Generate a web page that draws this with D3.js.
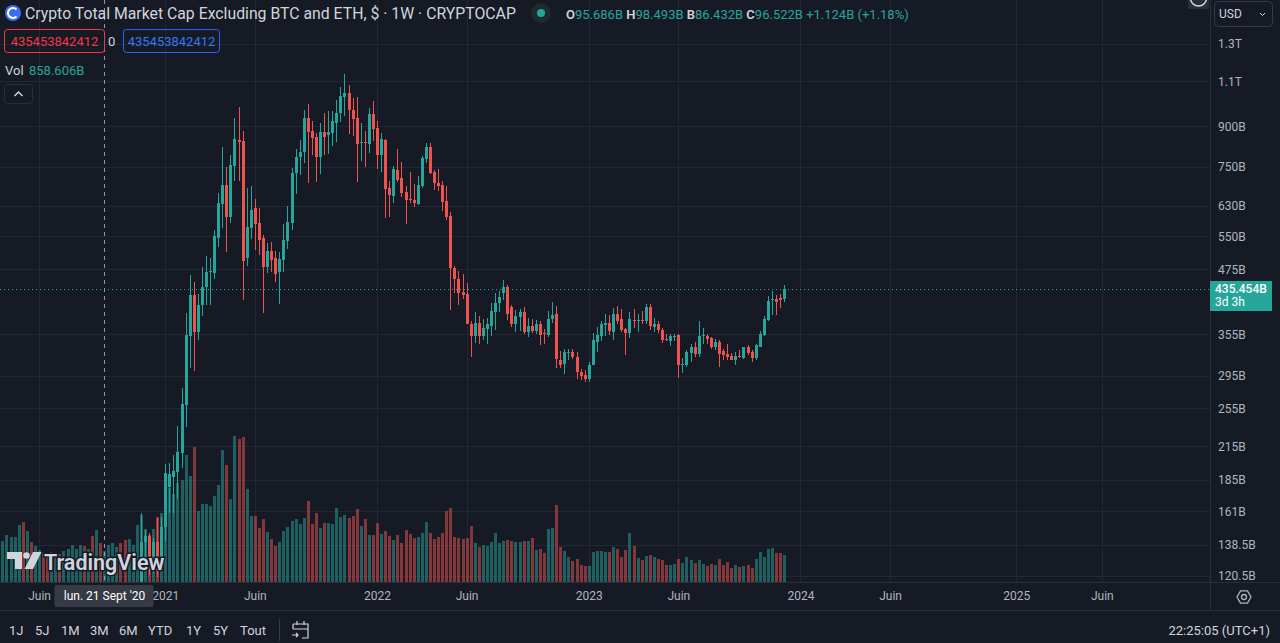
<!DOCTYPE html>
<html>
<head>
<meta charset="utf-8">
<script src="https://cdn.jsdelivr.net/npm/d3@7"></script>
<style>
  html, body { margin: 0; padding: 0; background: #161a25; overflow: hidden; }
  svg { display: block; font-family: Roboto, "DejaVu Sans", sans-serif; }
</style>
</head>
<body>
<svg id="chart" width="1280" height="643"></svg>
<script>
// weekly candles, first bar = week of 30 Mar 2020, values in billions USD
const firstWeek = "2020-03-30";

const opens = [
  44, 46, 50, 51, 54, 60, 57, 60, 58, 63, 66, 64, 63, 64, 66, 65, 72, 79, 88, 94,
  104, 101, 106, 92, 100, 95.686, 96.5, 98, 101, 102, 97, 92, 98, 104, 113, 140, 144, 128, 140, 126,
  150, 179, 188, 192, 209, 259, 352, 424, 359, 405,
  439, 469, 468, 547, 636, 693, 600, 755, 846, 842,
  500, 572, 625, 584, 546, 480, 516, 500, 470, 495,
  539, 585, 729, 783, 803, 933, 881, 856, 783, 877,
  865, 875, 915, 955, 1027, 1044, 967, 934, 835, 839,
  832, 951, 893, 793, 848, 683, 660, 740, 714, 671,
  650, 647, 637, 690, 779, 820, 734, 699, 693, 644,
  603, 478, 455, 429, 425, 372, 352, 374, 352, 364,
  369, 393, 408, 427, 439, 401, 372, 384, 393, 359,
  369, 360, 371, 357, 354, 381, 389, 317, 311, 327,
  328, 321, 300, 296, 291, 310, 343, 353, 370, 374,
  359, 389, 381, 364, 357, 379, 376, 379, 376, 401,
  367, 371, 362, 348, 344, 351, 354, 310, 310, 327,
  335, 325, 352, 353, 349, 335, 343, 330, 325, 322,
  317, 322, 320, 335, 328, 320, 336, 354, 379, 415,
  416, 418, 416
];
const highs = [
  48, 52, 52, 55, 62, 62, 61, 62, 64, 68, 68, 66, 65, 67, 70, 74, 80, 90, 96, 106,
  110, 108, 110, 102, 104, 98.493, 100, 104, 104, 104, 99, 100, 106, 116, 160, 148, 146, 143, 156, 157,
  199, 200, 207, 236, 279, 390, 463, 449, 425, 479,
  504, 500, 566, 668, 820, 751, 792, 934, 981, 881,
  683, 690, 650, 625, 553, 534, 536, 515, 514, 582,
  630, 748, 812, 847, 968, 994, 922, 872, 913, 954,
  964, 965, 1012, 1071, 1136, 1080, 1021, 1024, 913, 881,
  978, 1006, 923, 872, 852, 704, 753, 813, 768, 690,
  734, 694, 720, 788, 834, 834, 740, 744, 704, 690,
  613, 482, 471, 465, 447, 377, 393, 386, 381, 382,
  409, 427, 431, 453, 443, 405, 396, 398, 401, 382,
  381, 379, 376, 364, 394, 411, 403, 329, 333, 333,
  333, 328, 304, 303, 313, 357, 367, 376, 389, 387,
  400, 403, 398, 366, 393, 398, 389, 394, 406, 406,
  382, 377, 365, 355, 355, 355, 355, 320, 331, 340,
  343, 377, 365, 355, 351, 348, 346, 333, 340, 327,
  328, 331, 336, 338, 331, 340, 360, 386, 422, 431,
  424, 425, 443
];
const lows = [
  42, 45, 47, 49, 53, 54, 55, 57, 57, 62, 63, 62, 61, 62, 64, 64, 71, 78, 85, 92,
  99, 99, 86, 86, 93, 86.432, 94, 96, 98, 95, 88, 90, 96, 102, 110, 126, 121, 122, 120, 124,
  141, 160, 160, 170, 195, 235, 305, 301, 346, 385,
  405, 404, 455, 524, 570, 514, 585, 706, 706, 413,
  482, 544, 518, 505, 390, 468, 469, 448, 407, 470,
  521, 565, 666, 725, 765, 698, 792, 700, 727, 792,
  794, 825, 837, 917, 944, 871, 860, 703, 772, 749,
  798, 841, 745, 735, 598, 601, 639, 703, 656, 582,
  639, 627, 633, 684, 762, 726, 677, 675, 616, 593,
  395, 428, 404, 416, 371, 321, 342, 340, 346, 340,
  352, 362, 393, 414, 379, 367, 359, 360, 355, 351,
  357, 355, 338, 340, 351, 374, 306, 306, 297, 316,
  318, 291, 290, 287, 287, 309, 328, 344, 353, 354,
  346, 371, 359, 323, 349, 365, 359, 371, 372, 362,
  359, 357, 341, 344, 337, 344, 292, 299, 307, 313,
  321, 321, 340, 340, 333, 331, 307, 316, 317, 316,
  309, 320, 318, 324, 314, 317, 336, 353, 377, 387,
  387, 400, 410
];
const closes = [
  46, 50, 51, 54, 60, 57, 60, 58, 63, 66, 64, 63, 64, 66, 65, 72, 79, 88, 94, 104,
  101, 106, 92, 100, 95.398, 96.522, 98, 101, 102, 97, 92, 98, 104, 113, 140, 144, 128, 140, 126, 150,
  191, 190, 193, 210, 260, 354, 424, 358, 405, 439,
  469, 471, 551, 638, 693, 601, 757, 852, 840, 493,
  574, 619, 582, 542, 480, 516, 496, 464, 497, 541,
  587, 730, 785, 801, 933, 878, 853, 786, 876, 858,
  877, 922, 955, 1030, 1044, 969, 931, 832, 839, 836,
  951, 890, 793, 851, 681, 663, 743, 708, 669, 647,
  648, 639, 693, 781, 820, 729, 697, 690, 642, 600,
  478, 454, 428, 424, 372, 352, 374, 352, 365, 371,
  394, 408, 420, 439, 389, 372, 386, 393, 359, 369,
  360, 371, 354, 355, 381, 387, 318, 310, 328, 328,
  321, 300, 295, 291, 310, 346, 354, 372, 374, 360,
  389, 377, 362, 357, 381, 376, 379, 377, 401, 369,
  371, 362, 346, 346, 353, 353, 309, 311, 328, 335,
  325, 353, 354, 348, 335, 343, 325, 324, 321, 317,
  322, 321, 335, 327, 320, 338, 355, 381, 412, 416,
  410, 414, 435.453842412
];
const volumes = [
  1125, 1289, 1243, 1234, 1564, 1646, 1399, 1097, 987, 878, 795, 741, 823, 713, 768, 850, 905, 1015, 897, 1007,
  987, 897, 1262, 1426, 1070, 858.606, 1007, 1078, 952, 1078, 1152, 1171, 1007, 1555, 1830, 1446, 1289, 1462, 1775, 1884,
  2614, 2578, 2414, 2724, 2798, 3484, 2908, 3711, 1956, 2140,
  2140, 2085, 2359, 2661, 3621, 3209, 2277, 4005, 3922, 3977,
  2551, 1810, 1810, 1481, 1728, 1372, 1179, 987, 1097, 1399,
  1509, 1673, 1728, 1591, 1756, 2222, 1591, 1893, 1481, 1618,
  1618, 1591, 2030, 1783, 1838, 1756, 1810, 2002, 1536, 1728,
  1289, 1289, 1618, 1317, 1399, 1262, 1152, 1289, 1070, 1426,
  1317, 1207, 1234, 1344, 1646, 1344, 1179, 1234, 1344, 1948,
  2030, 1234, 1207, 1179, 1207, 1536, 1070, 960, 1015, 987,
  1097, 1344, 1070, 1125, 1152, 1125, 1097, 1097, 1125, 1125,
  1207, 878, 905, 795, 1454, 1481, 2112, 960, 850, 686,
  576, 631, 466, 439, 439, 823, 850, 850, 823, 823,
  960, 905, 686, 878, 1344, 987, 658, 603, 713, 741,
  686, 631, 603, 466, 466, 494, 631, 521, 686, 603,
  521, 603, 494, 439, 494, 466, 631, 466, 549, 384,
  466, 411, 439, 466, 384, 631, 823, 686, 905, 933,
  795, 795, 741
];

const priceTicks = [1300, 1100, 900, 750, 630, 550, 475, 355, 295, 255, 215, 185, 161, 138.5, 120.5];
const priceLabels = ["1.3T", "1.1T", "900B", "750B", "630B", "550B", "475B", "355B", "295B", "255B", "215B", "185B", "161B", "138.5B", "120.5B"];
const timeTickDates = ["2020-06-01", "2021-01-04", "2021-06-07", "2022-01-03", "2022-06-06", "2023-01-02", "2023-06-05", "2024-01-01", "2024-06-03", "2025-01-06", "2025-06-02"];
const timeTickLabels = ["Juin", "2021", "Juin", "2022", "Juin", "2023", "Juin", "2024", "Juin", "2025", "Juin"];
const hoverWeek = "2020-09-21";

const up = "#26a69a", down = "#ef5350", txt = "#b2b5be", light = "#d1d4dc";
const paneW = 1210, paneH = 582;

const svg = d3.select("#chart");
svg.append("rect").attr("width", 1280).attr("height", 643).attr("fill", "#161a25");

const t0 = new Date(firstWeek);
const bars = closes.map((c, i) => ({
  date: d3.utcDay.offset(t0, 7 * i),
  o: opens[i], h: highs[i], l: lows[i], c: c, v: volumes[i]
}));

// scales
const x = d3.scaleUtc()
  .domain([new Date("2020-09-21"), new Date("2023-12-04")])
  .range([104.2, 784.2]);
const y = d3.scaleLog().domain([120.5, 1300]).range([576, 44]);
const yVol = d3.scaleLinear().domain([0, 4000]).range([paneH, 436.2]);

svg.append("clipPath").attr("id", "pane")
  .append("rect").attr("width", paneW).attr("height", paneH);

// grid
const gridG = svg.append("g").attr("stroke", "#232733").attr("shape-rendering", "crispEdges");
gridG.selectAll("line.h").data(priceTicks).join("line")
  .attr("class", "h")
  .attr("x1", 0).attr("x2", paneW)
  .attr("y1", d => Math.round(y(d)) + 0.5).attr("y2", d => Math.round(y(d)) + 0.5);
gridG.selectAll("line.v").data(timeTickDates).join("line")
  .attr("class", "v")
  .attr("y1", 0).attr("y2", paneH)
  .attr("x1", d => Math.round(x(new Date(d))) + 0.5).attr("x2", d => Math.round(x(new Date(d))) + 0.5);

const plot = svg.append("g").attr("clip-path", "url(#pane)");

// volume
plot.append("g").attr("shape-rendering", "crispEdges")
  .selectAll("rect").data(bars).join("rect")
  .attr("x", d => Math.round(x(d.date)) - 1)
  .attr("width", 3)
  .attr("y", d => yVol(d.v))
  .attr("height", d => paneH - yVol(d.v))
  .attr("fill", d => d.c >= d.o ? up : down)
  .attr("fill-opacity", 0.5);

// candles
const candle = plot.append("g").attr("shape-rendering", "crispEdges")
  .selectAll("g").data(bars).join("g")
  .attr("fill", d => d.c >= d.o ? up : down)
  .attr("stroke", d => d.c >= d.o ? up : down);
candle.append("line")
  .attr("x1", d => Math.round(x(d.date)) + 0.5)
  .attr("x2", d => Math.round(x(d.date)) + 0.5)
  .attr("y1", d => y(d.h)).attr("y2", d => y(d.l));
candle.append("rect")
  .attr("stroke", "none")
  .attr("x", d => Math.round(x(d.date)) - 1)
  .attr("width", 3)
  .attr("y", d => y(Math.max(d.o, d.c)))
  .attr("height", d => Math.max(1, Math.abs(y(d.o) - y(d.c))));

// last price line
const last = bars[bars.length - 1];
svg.append("line")
  .attr("x1", 0).attr("x2", paneW)
  .attr("y1", Math.round(y(last.c)) + 0.5).attr("y2", Math.round(y(last.c)) + 0.5)
  .attr("stroke", up).attr("stroke-dasharray", "1,3");

// crosshair
const hx = Math.round(x(new Date(hoverWeek))) + 0.5;
svg.append("line")
  .attr("x1", hx).attr("x2", hx).attr("y1", 0).attr("y2", paneH)
  .attr("stroke", "#9598a1").attr("stroke-dasharray", "4,4");

// separators
const sepG = svg.append("g").attr("stroke", "#2a2e39").attr("shape-rendering", "crispEdges");
sepG.append("line").attr("x1", paneW + 0.5).attr("x2", paneW + 0.5).attr("y1", 0).attr("y2", 610);
sepG.append("line").attr("x1", 0).attr("x2", 1280).attr("y1", paneH + 0.5).attr("y2", paneH + 0.5);
sepG.append("line").attr("x1", 0).attr("x2", 1280).attr("y1", 610.5).attr("y2", 610.5);

// price axis
const yAxis = svg.append("g")
  .attr("transform", `translate(${paneW},0)`)
  .call(d3.axisRight(y).tickValues(priceTicks).tickFormat((d, i) => priceLabels[i]).tickSize(0).tickPadding(8));
yAxis.select(".domain").remove();
yAxis.selectAll("text").attr("fill", txt).attr("font-size", 12).attr("font-family", "Roboto, sans-serif");

// time axis
const xAxis = svg.append("g")
  .attr("transform", `translate(0,${paneH})`)
  .call(d3.axisBottom(x).tickValues(timeTickDates.map(d => new Date(d)))
    .tickFormat((d, i) => timeTickLabels[i]).tickSize(0).tickPadding(9));
xAxis.select(".domain").remove();
xAxis.selectAll("text").attr("fill", txt).attr("font-size", 12).attr("font-family", "Roboto, sans-serif");

// last price label
svg.append("rect").attr("x", paneW).attr("y", Math.round(y(last.c)) - 8).attr("width", 62).attr("height", 30)
  .attr("fill", up);
svg.append("text").attr("x", paneW + 5).attr("y", Math.round(y(last.c)) + 4)
  .attr("fill", "#fff").attr("font-size", 12).attr("font-weight", 500)
  .text(d3.format(".3f")(last.c) + "B");
svg.append("text").attr("x", paneW + 5).attr("y", Math.round(y(last.c)) + 17)
  .attr("fill", "#fff").attr("font-size", 12).text("3d 3h");

// crosshair date label
svg.append("rect").attr("x", hx - 50).attr("y", 585).attr("width", 99).attr("height", 22).attr("rx", 2)
  .attr("fill", "#363a45");
svg.append("text").attr("x", hx).attr("y", 600).attr("text-anchor", "middle")
  .attr("fill", "#fff").attr("font-size", 12).text("lun. 21 Sept '20");

// header
svg.append("circle").attr("cx", 13).attr("cy", 13).attr("r", 8).attr("fill", "#3b6ef5");
svg.append("path").attr("d", "M16.5,9.5 A5,5 0 1 0 16.5,16.5").attr("fill", "none")
  .attr("stroke", "#fff").attr("stroke-width", 2);
svg.append("text").attr("x", 25).attr("y", 19).attr("fill", light).attr("font-size", 15.8)
  .text("Crypto Total Market Cap Excluding BTC and ETH, $ · 1W · CRYPTOCAP");
svg.append("circle").attr("cx", 541).attr("cy", 13).attr("r", 10).attr("fill", "#1c2b2c");
svg.append("circle").attr("cx", 541).attr("cy", 13).attr("r", 4).attr("fill", up);

const hb = bars.find(d => +d.date === +new Date(hoverWeek));
const hi = bars.indexOf(hb);
const chg = hb.c - bars[hi - 1].c;
const f3 = d3.format(".3f");
const ohlc = svg.append("text").attr("x", 566).attr("y", 19).attr("font-size", 13);
[["O", f3(hb.o) + "B "], ["H", f3(hb.h) + "B "], ["B", f3(hb.l) + "B "], ["C", f3(hb.c) + "B "]]
  .forEach(([k, v]) => {
    ohlc.append("tspan").attr("fill", light).attr("font-weight", 600).text(k);
    ohlc.append("tspan").attr("fill", up).text(v);
  });
ohlc.append("tspan").attr("fill", up)
  .text(`+${f3(chg)}B (+${d3.format(".2f")(chg / bars[hi - 1].c * 100)}%)`);

const rawLast = d3.format("d")(Math.round(last.c * 1e9));
svg.append("rect").attr("x", 4.5).attr("y", 29.5).attr("width", 100).attr("height", 23).attr("rx", 3)
  .attr("fill", "none").attr("stroke", "#f23645");
svg.append("text").attr("x", 54.5).attr("y", 45.5).attr("text-anchor", "middle").attr("font-size", 13)
  .attr("fill", "#f23645").text(rawLast);
svg.append("text").attr("x", 108).attr("y", 45.5).attr("font-size", 13).attr("fill", light).text("0");
svg.append("rect").attr("x", 123.5).attr("y", 29.5).attr("width", 96).attr("height", 23).attr("rx", 3)
  .attr("fill", "none").attr("stroke", "#2962ff");
svg.append("text").attr("x", 171.5).attr("y", 45.5).attr("text-anchor", "middle").attr("font-size", 13)
  .attr("fill", "#3179f5").text(rawLast);

svg.append("text").attr("x", 5).attr("y", 75).attr("font-size", 13).attr("fill", light).text("Vol");
svg.append("text").attr("x", 29).attr("y", 75).attr("font-size", 13).attr("fill", up)
  .text(f3(hb.v) + "B");
svg.append("rect").attr("x", 4.5).attr("y", 84.5).attr("width", 28).attr("height", 19).attr("rx", 3)
  .attr("fill", "#161a25").attr("stroke", "#2a2e39");
svg.append("path").attr("d", "M14.5,96 l4,-4 l4,4").attr("fill", "none").attr("stroke", light).attr("stroke-width", 1.5);

// top right controls
svg.append("rect").attr("x", 1188).attr("y", 0).attr("width", 21).attr("height", 9).attr("fill", "#2a2e39");
svg.append("circle").attr("cx", 1198.5).attr("cy", -2).attr("r", 8).attr("fill", "none")
  .attr("stroke", light).attr("stroke-width", 1.5);
svg.append("rect").attr("x", 1214.5).attr("y", 1.5).attr("width", 58).attr("height", 25).attr("rx", 4)
  .attr("fill", "#161a25").attr("stroke", "#363a45");
svg.append("text").attr("x", 1219).attr("y", 18).attr("font-size", 12).attr("fill", light).text("USD");
svg.append("path").attr("d", "M1260,13 l2.5,2.5 l2.5,-2.5").attr("fill", "none").attr("stroke", light);

// settings icon
svg.append("path").attr("d", d3.range(6).map(i => {
    const a = Math.PI / 3 * i;
    return (i ? "L" : "M") + (1244 + 7 * Math.cos(a)).toFixed(1) + "," + (597 + 7 * Math.sin(a)).toFixed(1);
  }).join("") + "Z")
  .attr("fill", "none").attr("stroke", txt).attr("stroke-width", 1.3);
svg.append("circle").attr("cx", 1244).attr("cy", 597).attr("r", 2.5).attr("fill", "none").attr("stroke", txt).attr("stroke-width", 1.3);

// watermark
const wm = svg.append("g").attr("fill", light);
wm.append("path").attr("d", "M7,552 h15 v17 h-7 v-10 h-8 z");
wm.append("circle").attr("cx", 26.5).attr("cy", 555.5).attr("r", 3.3);
wm.append("path").attr("d", "M33,552 h8.5 l-8.5,17 h-8.5 z");
wm.append("text").attr("x", 44).attr("y", 570).attr("font-size", 21.5).attr("font-weight", 600)
  .attr("stroke", "#161a25").attr("stroke-width", 3).attr("paint-order", "stroke")
  .text("TradingView");

// bottom toolbar
const ranges = [["1J", 9], ["5J", 35], ["1M", 61], ["3M", 90], ["6M", 119], ["YTD", 148], ["1Y", 186], ["5Y", 213], ["Tout", 240]];
svg.append("g").selectAll("text").data(ranges).join("text")
  .attr("x", d => d[1]).attr("y", 635).attr("font-size", 13).attr("fill", light).text(d => d[0]);
svg.append("line").attr("x1", 279.5).attr("x2", 279.5).attr("y1", 619).attr("y2", 641).attr("stroke", "#363a45");
const cal = svg.append("g").attr("fill", "none").attr("stroke", light).attr("stroke-width", 1.2);
cal.append("path").attr("d", "M293,624 h15 v14 h-6 M293,624 v5 M293,629 h15");
cal.append("path").attr("d", "M297,621 v4 M304,621 v4");
cal.append("path").attr("d", "M292,635 h6 m-2,-2 l2,2 l-2,2");
svg.append("text").attr("x", 1270).attr("y", 635).attr("text-anchor", "end").attr("font-size", 13)
  .attr("fill", light).text("22:25:05 (UTC+1)");
</script>
</body>
</html>
